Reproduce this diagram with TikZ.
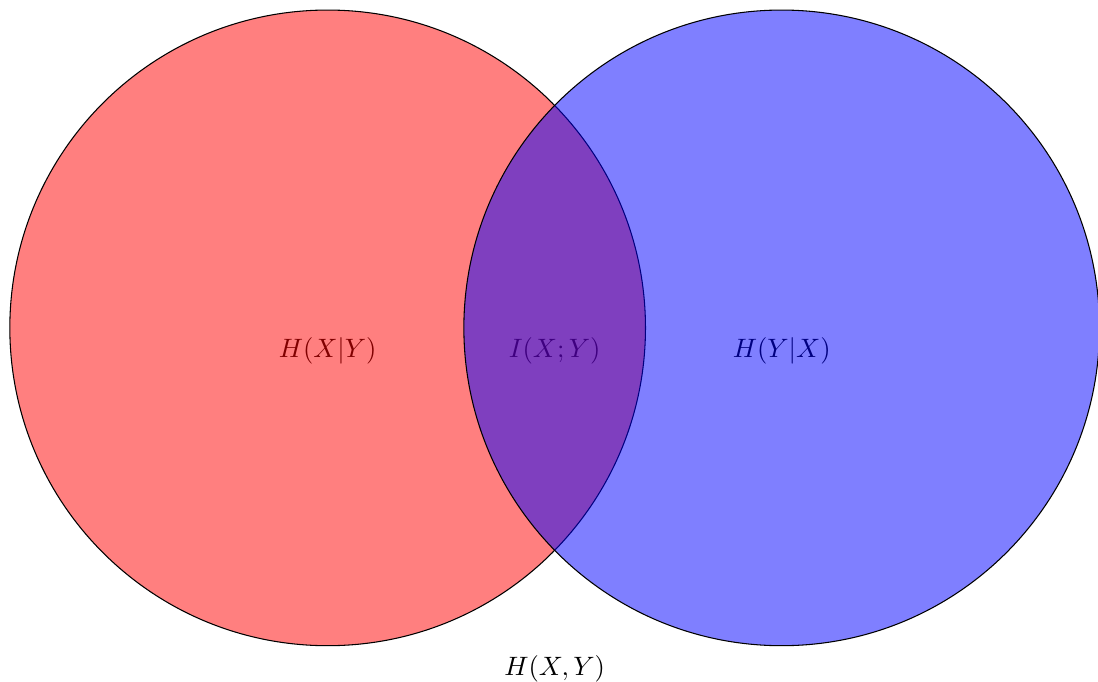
\documentclass[tikz,border=0pt]{standalone}
\usepackage{amsmath}
\usepackage{amssymb}
\usepackage{tikz}

\begin{document}
\begin{tikzpicture}
\useasboundingbox (-4.33,-4.676) rectangle (10.18,4.333);
\node[below] (hxy) at (0,0) {$H(X|Y)$};
\node[below] (ixy) at (3,0) {$I(X;Y)$};
\node[below] (hyx) at (6,0) {$H(Y|X)$};
\draw[fill=red,fill opacity=0.5] (0,0) circle (4.2);
\draw[fill=blue,fill opacity=0.5] (6,0) circle (4.2);
\node[below] (joint) at (3,-4.2) {$H(X,Y)$};
\end{tikzpicture}
\end{document}
